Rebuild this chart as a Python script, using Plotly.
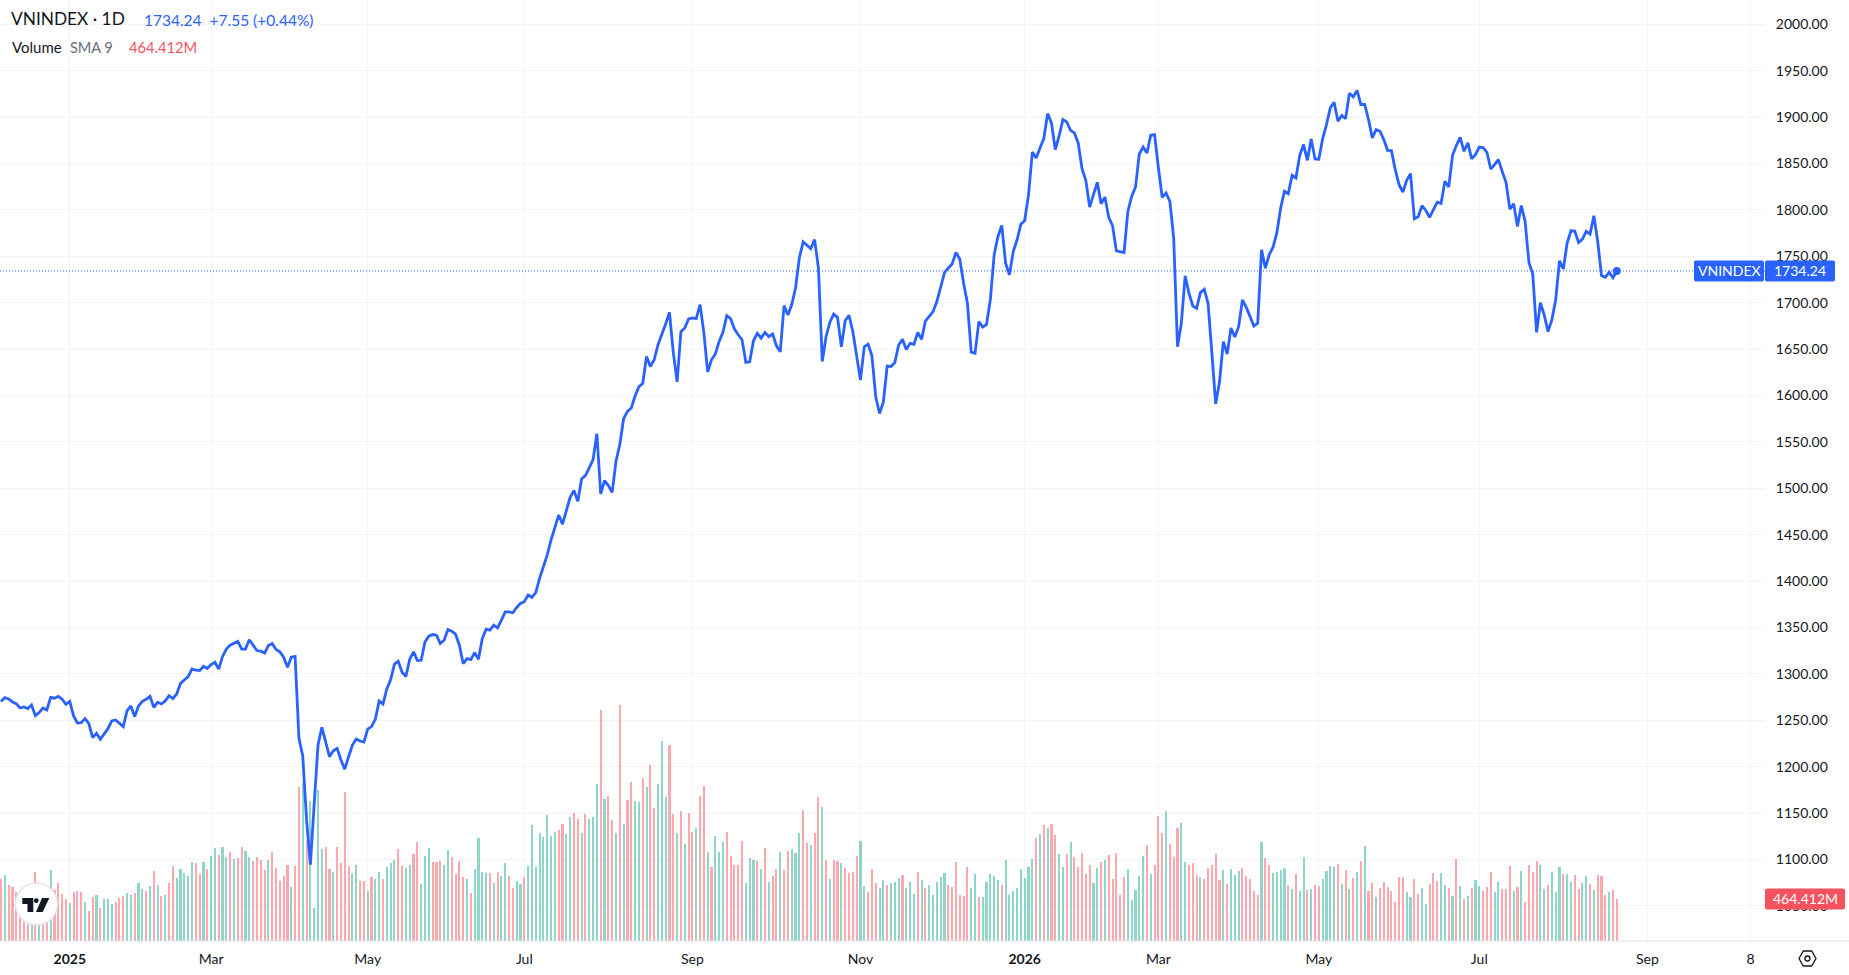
import plotly.graph_objects as go

# daily closes
close = [
    1270.2, 1274.5, 1273.0, 1269.8, 1268.0, 1263.3, 1264.4, 1262.6, 1266.6, 1255.0,
    1258.3, 1263.3, 1261.2, 1274.8, 1273.8, 1275.9, 1272.7, 1267.3, 1270.5,
    1254.7, 1247.1, 1247.5, 1251.8, 1246.4, 1231.3, 1236.0, 1229.5, 1236.0, 1241.0,
    1249.3, 1250.4, 1246.8, 1243.2, 1260.1, 1265.5, 1254.0, 1265.5, 1270.5, 1272.7,
    1275.9, 1264.0, 1269.4, 1267.6, 1270.9, 1276.6, 1273.4, 1278.4, 1290.0, 1293.6,
    1297.2, 1305.4, 1304.0, 1303.6, 1308.3, 1305.8, 1310.1, 1312.6, 1305.1, 1318.8,
    1326.7, 1331.0, 1332.8, 1335.0, 1326.7, 1326.7, 1336.8, 1331.4, 1325.2, 1324.5,
    1322.4, 1330.6, 1332.8, 1326.3, 1323.8, 1318.0, 1307.2, 1318.0, 1318.8, 1230.6,
    1211.5, 1142.4, 1094.5, 1160.4, 1223.4, 1242.4, 1227.0, 1210.8, 1217.2, 1219.8,
    1207.2, 1197.4, 1210.8, 1223.4, 1229.8, 1227.7, 1226.6, 1240.6, 1243.2, 1251.1,
    1270.9, 1267.6, 1283.8, 1293.6, 1310.5, 1313.7, 1301.8, 1297.2, 1315.9, 1323.8,
    1314.4, 1314.7, 1334.5, 1340.6, 1342.4, 1341.7, 1332.7, 1336.3, 1347.8, 1346.0,
    1342.8, 1330.9, 1311.0, 1316.5, 1315.4, 1323.0, 1315.7, 1338.1, 1348.2, 1347.1,
    1352.5, 1349.6, 1357.9, 1366.9, 1366.9, 1365.9, 1371.6, 1376.0, 1377.8, 1385.0,
    1382.5, 1387.5, 1403.0, 1416.3, 1428.2, 1444.5, 1457.1, 1471.2, 1461.4, 1476.2,
    1490.3, 1497.8, 1485.9, 1510.1, 1513.7, 1522.0, 1531.0, 1558.8, 1493.9, 1508.3,
    1502.9, 1495.7, 1529.2, 1547.2, 1575.0, 1582.9, 1586.5, 1599.5, 1609.6, 1612.9,
    1642.1, 1631.3, 1638.5, 1654.7, 1665.2, 1677.0, 1689.7, 1646.4, 1614.7, 1668.8, 1672.7,
    1682.5, 1683.6, 1682.8, 1698.0, 1668.0, 1625.5, 1638.5, 1644.6, 1658.3, 1668.0,
    1686.1, 1682.8, 1671.7, 1665.5, 1660.1, 1635.6, 1636.3, 1659.0, 1667.0, 1661.9,
    1668.0, 1663.4, 1666.2, 1653.6, 1647.1, 1696.9, 1686.8, 1697.8, 1715.8, 1748.2,
    1765.5, 1761.9, 1758.3, 1768.0, 1737.4, 1636.6, 1663.6, 1679.0, 1687.7, 1684.1,
    1652.4, 1680.5, 1686.3, 1669.0, 1640.2, 1616.6, 1652.6, 1655.4, 1642.8, 1598.6,
    1580.6, 1593.2, 1631.7, 1631.3, 1635.6, 1654.4, 1660.5, 1649.7, 1656.2, 1655.1,
    1668.0, 1660.5, 1680.3, 1685.0, 1690.4, 1701.2, 1717.4, 1732.5, 1737.5, 1741.8,
    1754.1, 1747.2, 1721.0, 1699.4, 1646.8, 1645.7, 1679.6, 1673.8, 1676.7, 1703.0,
    1751.6, 1771.4, 1783.2, 1742.6, 1730.0, 1755.2, 1767.8, 1784.7, 1788.6, 1816.4,
    1862.4, 1856.0, 1866.8, 1876.8, 1903.8, 1893.8, 1865.0, 1879.4, 1897.4, 1894.8,
    1885.8, 1883.0, 1872.2, 1844.4, 1831.8, 1803.0, 1816.4, 1829.7, 1806.6, 1813.8,
    1791.9, 1782.9, 1755.9, 1755.2, 1754.1, 1798.4, 1814.6, 1824.6, 1860.3, 1867.8,
    1861.4, 1880.4, 1881.2, 1845.2, 1813.5, 1818.2, 1809.2, 1769.6, 1652.6, 1677.8,
    1728.9, 1710.2, 1696.5, 1694.0, 1710.9, 1714.5, 1699.4, 1645.4, 1591.0, 1614.8,
    1658.0, 1644.6, 1672.7, 1663.0, 1674.2, 1703.0, 1695.0, 1685.0, 1674.9, 1677.8,
    1757.0, 1737.2, 1751.6, 1759.8, 1775.0, 1802.0, 1820.0, 1817.4, 1837.2, 1834.4,
    1858.8, 1870.4, 1853.4, 1876.5, 1854.9, 1854.5, 1876.8, 1892.0, 1910.0, 1916.0,
    1895.6, 1901.7, 1898.4, 1925.8, 1921.8, 1928.7, 1913.6, 1913.6, 1897.4, 1877.6,
    1886.6, 1884.8, 1875.8, 1864.2, 1863.9, 1843.4, 1827.2, 1819.2, 1831.8, 1839.0,
    1790.4, 1792.6, 1804.5, 1799.4, 1791.9, 1800.2, 1808.4, 1807.0, 1830.8, 1824.6,
    1858.8, 1869.3, 1878.3, 1863.2, 1872.2, 1855.2, 1859.6, 1867.8, 1867.1, 1862.1,
    1844.1, 1848.8, 1854.2, 1841.6, 1829.7, 1800.9, 1806.6, 1782.2, 1804.8, 1787.6,
    1743.3, 1731.0, 1668.0, 1700.0, 1686.8, 1668.8, 1681.4, 1703.0, 1745.0, 1736.4,
    1764.2, 1777.5, 1777.1, 1764.9, 1768.5, 1776.8, 1773.9, 1793.7, 1766.0, 1729.2,
    1727.4, 1732.8, 1727.1, 1734.24,
]

# volume in millions, one bar per close
volume = [
    686, 730, 619, 597, 546, 483, 453, 398, 453, 763,
    417, 453, 601, 785, 564, 645, 520, 464, 420, 542,
    553, 546, 435, 335, 487, 509, 365, 464, 464, 409,
    435, 475, 498, 531, 509, 531, 641, 575, 553, 608,
    774, 619, 498, 509, 641, 829, 697, 796, 752, 719,
    874, 863, 741, 874, 796, 940, 1028, 951, 1039, 929,
    984, 907, 918, 1039, 995, 929, 885, 929, 896, 785,
    896, 984, 807, 663, 719, 840, 597, 829, 1703, 1743,
    1117, 1548, 365, 1670, 1017, 1039, 796, 763, 1039, 863,
    1648, 829, 752, 840, 663, 663, 553, 708, 686, 763,
    686, 818, 863, 896, 1017, 829, 807, 840, 962, 1095,
    630, 940, 1028, 874, 874, 885, 840, 1006, 929, 741,
    885, 708, 686, 531, 796, 1139, 763, 752, 752, 641,
    763, 719, 863, 719, 586, 663, 630, 708, 829, 1283,
    818, 1194, 1150, 1393, 1161, 1205, 1227, 1294, 1183, 1371,
    1415, 1349, 1194, 1404, 1349, 1371, 1736, 2554, 1570, 1603,
    1338, 1194,
    2610, 1294, 1559, 1758, 1548, 1537, 1802, 1703, 1946, 1471,
    1736, 2212, 1592, 2167, 1404, 1194, 1438, 1073, 1415, 1205,
    1250, 1603, 1714, 984, 818, 1161, 984, 1095, 1205, 940,
    840, 840, 1106, 641, 918, 896, 885, 796, 1028, 652,
    719, 796, 984, 785, 995, 1017, 973, 1194, 1449, 1084,
    1062, 1194, 1592, 1482, 896, 686, 896, 885, 863, 807,
    752, 763, 940, 1106, 608, 542, 796, 641, 586, 675,
    619, 641, 652, 697, 730, 586, 652, 520, 763, 675,
    586, 619, 509, 652, 708, 752, 619, 597, 874, 509,
    498, 818, 586, 741, 487, 487, 652, 741, 719, 675,
    619, 896, 509, 553, 586, 796, 700, 818, 907, 1139, 1183,
    1283, 1250, 1294, 1172, 962, 818, 962, 1095, 929, 818,
    973, 741, 840, 641, 807, 874, 896, 951, 686, 973,
    509, 708, 796, 453, 564, 719, 940, 1062, 741, 840,
    1382, 1194, 1438, 1073, 929, 1250, 1305, 874, 840, 863,
    730, 708, 686, 807, 840, 962, 675, 785, 630,
    796, 730, 774,
    807, 719, 686, 553, 509, 1095, 918, 840, 752, 763,
    785, 807, 619, 575, 741, 553, 929, 564, 575, 619,
    608, 686, 774, 829, 818, 851, 630, 785, 575, 697,
    763, 885, 1051, 553, 641, 487, 586, 652, 597, 553,
    431, 708, 708, 542, 487, 686, 520, 586, 409, 630,
    752, 663, 752, 619, 586, 498, 907, 608, 464, 498,
    586, 675, 608, 553, 597, 763, 542, 652, 575, 575,
    829, 553, 597, 774, 431, 840, 763, 885, 840, 575,
    619, 763, 542, 818, 741, 741, 652, 730, 575, 641,
    719, 630, 564, 730, 719, 509, 542, 564, 464.412,
]

# u = up day (green bar), d = down day (red bar)
direction = """
d u d d d d d d u d
u d d u d d d d u d
d d u d d u d u u u
d d d u u d u u d u
d u d u d d u u u u
u d d u d u u d u u
d u d d u u d d d d
u d d d d d u d d u
d u u u u d d u d d
d d u u d d u d u u
d u u u d d u u d d
u u u d d d u u d d
d d u d u u u u d u
d u u d d u u d u u
u u u u u u d d u u
d d u d u u u d u d
d u
d u d d u u d u d d
u u u d d u d u d d
u d d u d u u u d d
d d d u u u d u d u
d d u d d u u u d d
u d d u d u d d u d
d d d u u d d d u u
d u u u d u u u d u
d u u u u u d d d d
d d u u d u u u u u
d u u u u u u u u d u
d u d d u u d u d d
d d d u u d u d d d
d d u u u u u d u d
d d u d d d u u d d
d u d d d d d u d
u u u
d d d d d u d d u u
u u d u d u u d u d
d u u u u d u d u d
u d u d d u d d d d
d d d u u d d u u d
d d u u d u d u d u
d u u d d d u u d d
d u d u d d d d u u
d u u u d u u d d u
u d u d d d u d d
""".split()

tick_labels = ["<b>2025</b>", "Mar", "May", "Jul", "Sep", "Nov", "<b>2026</b>", "Mar", "May", "Jul", "Sep", "8"]
tick_index = [18, 55, 96, 137, 181, 225, 268, 303, 345, 387, 431, 458]
price_ticks = list(range(1050, 2001, 50))

BLUE = "#2962ff"
RED = "#f7525f"
INK = "#131722"
GRID = "#f3f4f6"
FONT = "Lato"

W, H = 1849, 975
PLOT_W, PLOT_H = 1765, 941
X_RANGE = [-0.26, 461.8]
PRICE_RANGE = [1012.2, 2026.2]
VOLUME_RANGE = [0, 10405]

bars_x = list(range(len(volume)))
line_x = list(range(len(close)))
bar_colors = ["rgba(34,171,148,0.5)" if d == "u" else "rgba(247,82,95,0.5)" for d in direction]


def px(x):
    return x / PLOT_W


def py(y):
    return (PLOT_H - y) / PLOT_H


def price_y(p):
    return PLOT_H * (PRICE_RANGE[1] - p) / (PRICE_RANGE[1] - PRICE_RANGE[0])


def volume_y(v):
    return PLOT_H * (VOLUME_RANGE[1] - v) / (VOLUME_RANGE[1] - VOLUME_RANGE[0])


def tag_shape(x0, x1, yc, color):
    # small rounded label on the price scale
    y0, y1, r = yc - 10.5, yc + 10.5, 2
    path = (
        f"M {px(x0 + r)} {py(y0)} L {px(x1 - r)} {py(y0)} Q {px(x1)} {py(y0)} {px(x1)} {py(y0 + r)} "
        f"L {px(x1)} {py(y1 - r)} Q {px(x1)} {py(y1)} {px(x1 - r)} {py(y1)} "
        f"L {px(x0 + r)} {py(y1)} Q {px(x0)} {py(y1)} {px(x0)} {py(y1 - r)} "
        f"L {px(x0)} {py(y0 + r)} Q {px(x0)} {py(y0)} {px(x0 + r)} {py(y0)} Z"
    )
    return dict(type="path", xref="paper", yref="paper", path=path, fillcolor=color, line_width=0)


def poly(points):
    return "M " + " L ".join(f"{px(x)} {py(y)}" for x, y in points) + " Z"


def text(x, y, s, size, color, anchor="left"):
    return dict(
        xref="paper", yref="paper", x=px(x), y=py(y), text=s, showarrow=False,
        xanchor=anchor, yanchor="middle", font=dict(family=FONT, size=size, color=color),
    )


fig = go.Figure()
fig.add_trace(go.Bar(x=bars_x, y=volume, yaxis="y", width=0.55, marker=dict(color=bar_colors, line_width=0)))
fig.add_trace(go.Scatter(x=line_x, y=close, yaxis="y2", mode="lines", line=dict(color=BLUE, width=2.8)))
fig.add_trace(go.Scatter(x=line_x[-1:], y=close[-1:], yaxis="y2", mode="markers",
                         marker=dict(color=BLUE, size=8, line_width=0)))

last_y = price_y(close[-1])
vol_y = volume_y(volume[-1])

shapes = [
    # last price dotted line
    dict(type="line", xref="paper", yref="y2", x0=0, x1=1, y0=close[-1], y1=close[-1],
         line=dict(color=BLUE, width=1, dash="1px,2px")),
    # time scale border
    dict(type="line", xref="paper", yref="paper", x0=0, x1=W / PLOT_W, y0=0, y1=0,
         line=dict(color="#e0e3eb", width=1)),
    tag_shape(1694, 1764, last_y, BLUE),
    tag_shape(1765, 1835, last_y, BLUE),
    tag_shape(1765, 1845, vol_y, RED),
    # logo badge
    dict(type="circle", xref="paper", yref="paper", x0=px(15.5), x1=px(57.5), y0=py(925), y1=py(883),
         fillcolor="white", line=dict(color="#e4e5ec", width=1.5)),
    dict(type="path", xref="paper", yref="paper", line_width=0, fillcolor=INK,
         path=poly([(22.3, 898), (33.3, 898), (33.3, 912), (27.5, 912), (27.5, 904), (22.3, 904)])),
    dict(type="circle", xref="paper", yref="paper", x0=px(33.9), x1=px(38.7), y0=py(903.1), y1=py(898.3),
         fillcolor=INK, line_width=0),
    dict(type="path", xref="paper", yref="paper", line_width=0, fillcolor=INK,
         path=poly([(42, 898), (49.3, 898), (42.7, 912), (36, 912)])),
    # settings icon
    dict(type="path", xref="paper", yref="paper", fillcolor="rgba(0,0,0,0)", line=dict(color=INK, width=1.3),
         path=poly([(1799, 958.5), (1803.3, 951), (1811.7, 951), (1816, 958.5), (1811.7, 966), (1803.3, 966)])),
    dict(type="circle", xref="paper", yref="paper", x0=px(1805), x1=px(1810), y0=py(961), y1=py(956),
         fillcolor="rgba(0,0,0,0)", line=dict(color=INK, width=1.3)),
]

annotations = [
    text(9, 19, "VNINDEX · 1D", 17.3, INK),
    text(142, 19.5, f"{close[-1]:.2f}&#160;&#160;+7.55 (+0.44%)", 15.5, BLUE),
    text(9.5, 47, "Volume", 15, INK),
    text(67.5, 47, "SMA 9", 14.5, "#6a6d78"),
    text(126.5, 47, "464.412M", 14.7, RED),
    text(1729, last_y, "VNINDEX", 14, "white", "center"),
    text(1800, last_y, f"{close[-1]:.2f}", 14, "white", "center"),
    text(1805, vol_y, "464.412M", 14, "white", "center"),
]

fig.update_layout(
    width=W, height=H, margin=dict(l=0, r=W - PLOT_W, t=0, b=H - PLOT_H),
    paper_bgcolor="white", plot_bgcolor="white", showlegend=False, hovermode=False, bargap=0,
    shapes=shapes, annotations=annotations,
    font=dict(family=FONT, size=14, color=INK),
    xaxis=dict(
        range=X_RANGE, tickmode="array", tickvals=tick_index, ticktext=tick_labels, tickangle=0,
        showgrid=True, gridcolor=GRID, gridwidth=1, zeroline=False, showline=False,
        ticks="outside", ticklen=5, tickcolor="rgba(0,0,0,0)", tickfont=dict(family=FONT, size=14, color=INK),
    ),
    yaxis=dict(range=VOLUME_RANGE, visible=False, showgrid=False, zeroline=False),
    yaxis2=dict(
        range=PRICE_RANGE, overlaying="y", side="right", anchor="x",
        tickmode="array", tickvals=price_ticks, ticktext=[f"{p:.2f}" for p in price_ticks],
        showgrid=True, gridcolor=GRID, gridwidth=1, zeroline=False, showline=False,
        ticks="outside", ticklen=7, tickcolor="rgba(0,0,0,0)", tickfont=dict(family=FONT, size=14, color=INK),
    ),
)

fig.write_html(
    "out.html",
    config=dict(displayModeBar=False),
    post_script="document.body.style.margin='0';document.documentElement.style.overflow='hidden';",
)
